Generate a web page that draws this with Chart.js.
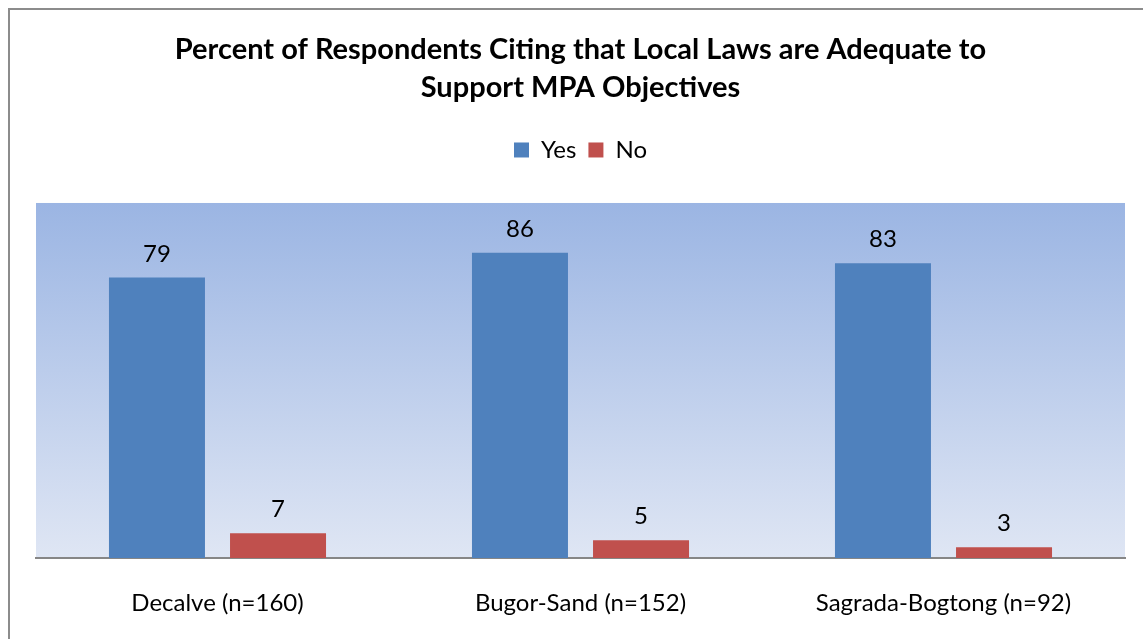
<!DOCTYPE html>
<html>
<head>
<meta charset="utf-8">
<script src="https://cdn.jsdelivr.net/npm/chart.js@4.4.0/dist/chart.umd.min.js"></script>
<style>
  html, body { margin: 0; padding: 0; background: #fff; overflow: hidden; }
  #wrap { position: relative; width: 1143px; height: 639px; }
  #frame { position: absolute; left: 8px; top: 8px; width: 1200px; height: 700px; border: 2px solid #8c8c8c; box-sizing: border-box; }
  canvas { position: absolute; left: 0; top: 0; }
</style>
</head>
<body>
<div id="wrap">
  <div id="frame"></div>
  <canvas id="chart" width="1143" height="639"></canvas>
</div>
<script>
const sites = ["Decalve (n=160)", "Bugor-Sand (n=152)", "Sagrada-Bogtong (n=92)"];
const yesValues = [79, 86, 83];
const noValues = [7, 5, 3];

const FONT = "Lato, 'Open Sans', sans-serif";

// gradient behind the plot area
const plotBackground = {
  id: "plotBackground",
  beforeDraw(chart) {
    const { ctx, chartArea } = chart;
    const g = ctx.createLinearGradient(0, chartArea.top, 0, chartArea.bottom);
    g.addColorStop(0, "#9bb5e3");
    g.addColorStop(1, "#dfe6f4");
    ctx.save();
    ctx.fillStyle = g;
    ctx.fillRect(chartArea.left, chartArea.top, chartArea.right - chartArea.left, chartArea.bottom - chartArea.top);
    ctx.restore();
  }
};

// value labels above each bar
const valueLabels = {
  id: "valueLabels",
  afterDatasetsDraw(chart) {
    const { ctx } = chart;
    ctx.save();
    ctx.font = "24px " + FONT;
    ctx.fillStyle = "#000";
    ctx.textAlign = "center";
    ctx.textBaseline = "alphabetic";
    chart.data.datasets.forEach((ds, i) => {
      chart.getDatasetMeta(i).data.forEach((bar, j) => {
        ctx.fillText(ds.data[j], bar.x, bar.y - 16);
      });
    });
    ctx.restore();
  }
};

// extra room under the legend
const legendGap = {
  id: "legendGap",
  beforeInit(chart) {
    const fit = chart.legend.fit;
    chart.legend.fit = function () {
      fit.call(this);
      this.height += 31;
    };
  }
};

new Chart(document.getElementById("chart"), {
  type: "bar",
  data: {
    labels: sites,
    datasets: [
      { label: "Yes", data: yesValues, backgroundColor: "#4f81bd" },
      { label: "No", data: noValues, backgroundColor: "#c0504d" }
    ]
  },
  options: {
    responsive: false,
    animation: false,
    devicePixelRatio: 1,
    layout: { padding: { top: 20, left: 36, right: 18, bottom: 0 } },
    datasets: { bar: { categoryPercentage: 0.667, barPercentage: 0.793 } },
    plugins: {
      title: {
        display: true,
        text: ["Percent of Respondents Citing that Local Laws are Adequate to", "Support MPA Objectives"],
        color: "#000",
        font: { family: FONT, size: 29, weight: "bold", lineHeight: 1.31 },
        padding: { top: 11, bottom: 19 }
      },
      legend: {
        labels: {
          color: "#000",
          font: { family: FONT, size: 24 },
          boxWidth: 15,
          boxHeight: 15,
          padding: 12
        }
      },
      tooltip: { enabled: false }
    },
    scales: {
      x: {
        grid: { display: false, drawTicks: false },
        border: { display: true, color: "#868686", width: 2 },
        ticks: { color: "#000", font: { family: FONT, size: 24 }, padding: 31 },
        afterFit(scale) { scale.height = 81; }
      },
      y: {
        display: false,
        min: 0,
        max: 100
      }
    }
  },
  plugins: [plotBackground, valueLabels, legendGap]
});
</script>
</body>
</html>
